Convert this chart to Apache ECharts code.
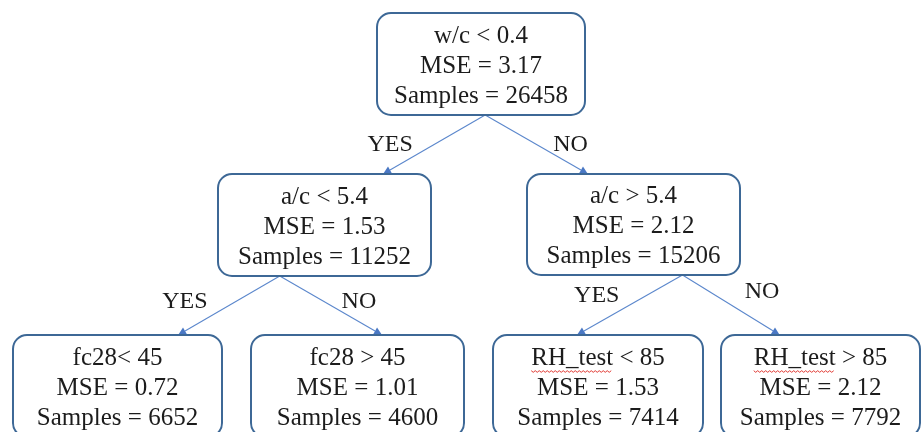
<!DOCTYPE html>
<html>
<head>
<meta charset="utf-8">
<script src="https://cdn.jsdelivr.net/npm/echarts@6/dist/echarts.min.js"></script>
<style>
  html, body { margin: 0; padding: 0; background: #fff; }
  #tree { width: 922px; height: 432px; }
</style>
</head>
<body>
<div id="tree"></div>
<script>
// tree contents
const nodeConditions = ['w/c < 0.4', 'a/c < 5.4', 'a/c > 5.4', 'fc28< 45', 'fc28 > 45', 'RH_test < 85', 'RH_test > 85'];
const nodeMSE = [3.17, 1.53, 2.12, 0.72, 1.01, 1.53, 2.12];
const nodeSamples = [26458, 11252, 15206, 6652, 4600, 7414, 7792];
const edgeFrom = [0, 0, 1, 1, 2, 2];
const edgeTo = [1, 2, 3, 4, 5, 6];
const edgeLabels = ['YES', 'NO', 'YES', 'NO', 'YES', 'NO'];

// layout (axis units = pixels of the original drawing)
const nodeBoxes = [
  [377, 13, 585, 115],
  [218, 174, 431, 276],
  [527, 174, 740, 275],
  [13, 335, 222, 437],
  [251, 335, 464, 437],
  [493, 335, 703, 437],
  [721, 335, 920, 437]
];
// where each edge leaves the parent / hits the child (fraction of box width)
const edgeStartFrac = [0.52, 0.52, 0.29, 0.29, 0.73, 0.73];
const edgeEndFrac = [0.775, 0.286, 0.79, 0.615, 0.4, 0.295];
const edgeLabelShift = [[-44, 0], [34, 0], [-44, -4], [28, -4], [-33, -9], [31, -13]];

const FONT = '"Liberation Serif", "Times New Roman", serif';
const LINE_H = 30;
const measure = document.createElement('canvas').getContext('2d');
measure.font = '25px "Liberation Serif"';

function nodeText(i) {
  return nodeConditions[i] + '\nMSE = ' + nodeMSE[i].toFixed(2) + '\nSamples = ' + nodeSamples[i];
}

function renderBox(params, api) {
  const i = api.value(0);
  const b = nodeBoxes[i];
  const p0 = api.coord([b[0], b[1]]);
  const p1 = api.coord([b[2], b[3]]);
  const cx = (p0[0] + p1[0]) / 2;
  const cy = (p0[1] + p1[1]) / 2 + 2;
  const children = [{
    type: 'rect',
    shape: { x: p0[0], y: p0[1], width: p1[0] - p0[0], height: p1[1] - p0[1], r: 14 },
    style: { fill: '#fff', stroke: '#3d6896', lineWidth: 2 }
  }, {
    type: 'text',
    style: {
      x: cx, y: cy, text: nodeText(i), align: 'center', verticalAlign: 'middle',
      fontSize: 25, fontFamily: FONT, lineHeight: LINE_H, fill: '#1c1c1c'
    }
  }];
  // red spell-check squiggle under "RH_test"
  if (nodeConditions[i].indexOf('RH_test') === 0) {
    const w1 = measure.measureText(nodeConditions[i]).width;
    const wRH = measure.measureText('RH_test').width;
    const x0 = cx - w1 / 2, yl = cy - LINE_H + 13;
    const pts = [];
    for (let x = 0, k = 0; x <= wRH; x += 2, k++) pts.push([x0 + x, yl + (k % 2 ? 1.3 : -0.3)]);
    children.push({ type: 'polyline', shape: { points: pts }, style: { stroke: '#e23a33', lineWidth: 1, fill: null } });
  }
  return { type: 'group', children: children };
}

function renderEdge(params, api) {
  const k = api.value(0);
  const pb = nodeBoxes[edgeFrom[k]], cb = nodeBoxes[edgeTo[k]];
  const s = api.coord([pb[0] + edgeStartFrac[k] * (pb[2] - pb[0]), pb[3]]);
  const e = api.coord([cb[0] + edgeEndFrac[k] * (cb[2] - cb[0]), cb[1]]);
  const dx = e[0] - s[0], dy = e[1] - s[1];
  const len = Math.sqrt(dx * dx + dy * dy);
  const ux = dx / len, uy = dy / len;
  const al = 8, aw = 4;
  const bx = e[0] - ux * al, by = e[1] - uy * al;
  const mx = (s[0] + e[0]) / 2, my = (s[1] + e[1]) / 2;
  return {
    type: 'group',
    children: [{
      type: 'line',
      shape: { x1: s[0], y1: s[1], x2: bx, y2: by },
      style: { stroke: '#5b87cc', lineWidth: 1.1 }
    }, {
      type: 'polygon',
      shape: { points: [[e[0], e[1]], [bx - uy * aw, by + ux * aw], [bx + uy * aw, by - ux * aw]] },
      style: { fill: '#4a78c4' }
    }, {
      type: 'text',
      style: {
        x: mx + edgeLabelShift[k][0], y: my + edgeLabelShift[k][1], text: edgeLabels[k],
        align: 'center', verticalAlign: 'middle', fontSize: 24, fontFamily: FONT, fill: '#1c1c1c'
      }
    }]
  };
}

const chart = echarts.init(document.getElementById('tree'));
chart.setOption({
  animation: false,
  grid: { left: 0, right: 0, top: 0, bottom: 0 },
  xAxis: { type: 'value', min: 0, max: 922, show: false },
  yAxis: { type: 'value', min: 0, max: 432, inverse: true, show: false },
  series: [{
    type: 'custom',
    renderItem: renderEdge,
    data: edgeLabels.map(function (l, k) { return [k]; }),
    silent: true
  }, {
    type: 'custom',
    renderItem: renderBox,
    data: nodeConditions.map(function (c, i) { return [i]; }),
    silent: true
  }]
});
</script>
</body>
</html>
